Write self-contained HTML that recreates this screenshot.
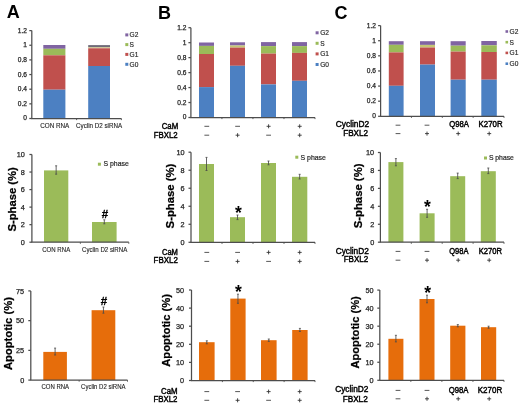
<!DOCTYPE html>
<html><head><meta charset="utf-8"><style>
html,body{margin:0;padding:0;background:#fff;width:520px;height:405px;overflow:hidden}
svg{display:block;filter:blur(0.4px);font-family:"Liberation Sans",sans-serif}
</style></head><body>
<svg width="520" height="405" viewBox="0 0 520 405">
<rect width="520" height="405" fill="#fff"/>
<text x="6.8" y="17.9" font-size="18" text-anchor="start" font-weight="bold" fill="#000">A</text>
<text x="158" y="19" font-size="18" text-anchor="start" font-weight="bold" fill="#000">B</text>
<text x="334.6" y="18.6" font-size="18" text-anchor="start" font-weight="bold" fill="#000">C</text>
<rect x="43.3" y="45" width="22.1" height="3.8" fill="#8064a2"/>
<rect x="43.3" y="48.8" width="22.1" height="6.5" fill="#9bbb59"/>
<rect x="43.3" y="55.3" width="22.1" height="34.4" fill="#c0504d"/>
<rect x="43.3" y="89.7" width="22.1" height="28.8" fill="#4c80c2"/>
<rect x="88.2" y="45.1" width="21.8" height="2.1" fill="#6f6b78"/>
<rect x="88.2" y="47.2" width="21.8" height="1.1" fill="#c9c08a"/>
<rect x="88.2" y="48.3" width="21.8" height="17.7" fill="#c0504d"/>
<rect x="88.2" y="66" width="21.8" height="52.5" fill="#4c80c2"/>
<line x1="31.8" y1="30.6" x2="31.8" y2="118.5" stroke="#4d4d4d" stroke-width="1.25"/>
<line x1="29.3" y1="118.5" x2="31.8" y2="118.5" stroke="#4d4d4d" stroke-width="1.25"/>
<text x="27" y="120.47" font-size="6.6" text-anchor="end" font-weight="normal" fill="#262626" stroke="#262626" stroke-width="0.25">0</text>
<line x1="29.3" y1="103.85" x2="31.8" y2="103.85" stroke="#4d4d4d" stroke-width="1.25"/>
<text x="27" y="105.82" font-size="6.6" text-anchor="end" font-weight="normal" fill="#262626" stroke="#262626" stroke-width="0.25">0.2</text>
<line x1="29.3" y1="89.2" x2="31.8" y2="89.2" stroke="#4d4d4d" stroke-width="1.25"/>
<text x="27" y="91.17" font-size="6.6" text-anchor="end" font-weight="normal" fill="#262626" stroke="#262626" stroke-width="0.25">0.4</text>
<line x1="29.3" y1="74.55" x2="31.8" y2="74.55" stroke="#4d4d4d" stroke-width="1.25"/>
<text x="27" y="76.52" font-size="6.6" text-anchor="end" font-weight="normal" fill="#262626" stroke="#262626" stroke-width="0.25">0.6</text>
<line x1="29.3" y1="59.9" x2="31.8" y2="59.9" stroke="#4d4d4d" stroke-width="1.25"/>
<text x="27" y="61.87" font-size="6.6" text-anchor="end" font-weight="normal" fill="#262626" stroke="#262626" stroke-width="0.25">0.8</text>
<line x1="29.3" y1="45.25" x2="31.8" y2="45.25" stroke="#4d4d4d" stroke-width="1.25"/>
<text x="27" y="47.22" font-size="6.6" text-anchor="end" font-weight="normal" fill="#262626" stroke="#262626" stroke-width="0.25">1</text>
<line x1="29.3" y1="30.6" x2="31.8" y2="30.6" stroke="#4d4d4d" stroke-width="1.25"/>
<text x="27" y="32.57" font-size="6.6" text-anchor="end" font-weight="normal" fill="#262626" stroke="#262626" stroke-width="0.25">1.2</text>
<line x1="31.3" y1="118.5" x2="121.4" y2="118.5" stroke="#4d4d4d" stroke-width="1.25"/>
<line x1="76.6" y1="118.5" x2="76.6" y2="120.1" stroke="#4d4d4d" stroke-width="0.9"/>
<line x1="121.4" y1="118.5" x2="121.4" y2="120.1" stroke="#4d4d4d" stroke-width="0.9"/>
<rect x="125.3" y="33.4" width="3" height="3" fill="#8064a2"/>
<text x="129.6" y="37.2" font-size="6.6" text-anchor="start" font-weight="normal" fill="#262626" stroke="#262626" stroke-width="0.15">G2</text>
<rect x="125.3" y="43.1" width="3" height="3" fill="#9bbb59"/>
<text x="129.6" y="46.9" font-size="6.6" text-anchor="start" font-weight="normal" fill="#262626" stroke="#262626" stroke-width="0.15">S</text>
<rect x="125.3" y="52.9" width="3" height="3" fill="#c0504d"/>
<text x="129.6" y="56.7" font-size="6.6" text-anchor="start" font-weight="normal" fill="#262626" stroke="#262626" stroke-width="0.15">G1</text>
<rect x="125.3" y="62.8" width="3" height="3" fill="#4c80c2"/>
<text x="129.6" y="66.6" font-size="6.6" text-anchor="start" font-weight="normal" fill="#262626" stroke="#262626" stroke-width="0.15">G0</text>
<text x="40.18" y="128.3" font-size="6.4" text-anchor="start" font-weight="normal" fill="#262626" textLength="29.13" lengthAdjust="spacingAndGlyphs" stroke="#262626" stroke-width="0.12">CON RNA</text>
<text x="76.09" y="127.8" font-size="6.4" text-anchor="start" font-weight="normal" fill="#262626" textLength="46.02" lengthAdjust="spacingAndGlyphs" stroke="#262626" stroke-width="0.12">Cyclin D2 siRNA</text>
<rect x="199" y="42.5" width="15" height="3.4" fill="#8064a2"/>
<rect x="199" y="45.9" width="15" height="8.1" fill="#9bbb59"/>
<rect x="199" y="54" width="15" height="33.1" fill="#c0504d"/>
<rect x="199" y="87.1" width="15" height="30.4" fill="#4c80c2"/>
<rect x="230" y="42.3" width="15" height="3.2" fill="#8064a2"/>
<rect x="230" y="45.5" width="15" height="2.1" fill="#c5c772"/>
<rect x="230" y="47.6" width="15" height="18.2" fill="#c0504d"/>
<rect x="230" y="65.8" width="15" height="51.7" fill="#4c80c2"/>
<rect x="261" y="42.1" width="15" height="4" fill="#8064a2"/>
<rect x="261" y="46.1" width="15" height="7.5" fill="#9bbb59"/>
<rect x="261" y="53.6" width="15" height="30.8" fill="#c0504d"/>
<rect x="261" y="84.4" width="15" height="33.1" fill="#4c80c2"/>
<rect x="292" y="42.1" width="15" height="4" fill="#8064a2"/>
<rect x="292" y="46.1" width="15" height="6.8" fill="#9bbb59"/>
<rect x="292" y="52.9" width="15" height="27.9" fill="#c0504d"/>
<rect x="292" y="80.8" width="15" height="36.7" fill="#4c80c2"/>
<line x1="190.9" y1="27.7" x2="190.9" y2="117.5" stroke="#4d4d4d" stroke-width="1.25"/>
<line x1="188.4" y1="117.5" x2="190.9" y2="117.5" stroke="#4d4d4d" stroke-width="1.25"/>
<text x="186.4" y="119.47" font-size="6.6" text-anchor="end" font-weight="normal" fill="#262626" stroke="#262626" stroke-width="0.25">0</text>
<line x1="188.4" y1="102.53" x2="190.9" y2="102.53" stroke="#4d4d4d" stroke-width="1.25"/>
<text x="186.4" y="104.5" font-size="6.6" text-anchor="end" font-weight="normal" fill="#262626" stroke="#262626" stroke-width="0.25">0.2</text>
<line x1="188.4" y1="87.57" x2="190.9" y2="87.57" stroke="#4d4d4d" stroke-width="1.25"/>
<text x="186.4" y="89.54" font-size="6.6" text-anchor="end" font-weight="normal" fill="#262626" stroke="#262626" stroke-width="0.25">0.4</text>
<line x1="188.4" y1="72.6" x2="190.9" y2="72.6" stroke="#4d4d4d" stroke-width="1.25"/>
<text x="186.4" y="74.57" font-size="6.6" text-anchor="end" font-weight="normal" fill="#262626" stroke="#262626" stroke-width="0.25">0.6</text>
<line x1="188.4" y1="57.63" x2="190.9" y2="57.63" stroke="#4d4d4d" stroke-width="1.25"/>
<text x="186.4" y="59.6" font-size="6.6" text-anchor="end" font-weight="normal" fill="#262626" stroke="#262626" stroke-width="0.25">0.8</text>
<line x1="188.4" y1="42.67" x2="190.9" y2="42.67" stroke="#4d4d4d" stroke-width="1.25"/>
<text x="186.4" y="44.64" font-size="6.6" text-anchor="end" font-weight="normal" fill="#262626" stroke="#262626" stroke-width="0.25">1</text>
<line x1="188.4" y1="27.7" x2="190.9" y2="27.7" stroke="#4d4d4d" stroke-width="1.25"/>
<text x="186.4" y="29.67" font-size="6.6" text-anchor="end" font-weight="normal" fill="#262626" stroke="#262626" stroke-width="0.25">1.2</text>
<line x1="190.4" y1="117.5" x2="315" y2="117.5" stroke="#4d4d4d" stroke-width="1.25"/>
<line x1="221.93" y1="117.5" x2="221.93" y2="119.1" stroke="#4d4d4d" stroke-width="0.9"/>
<line x1="252.95" y1="117.5" x2="252.95" y2="119.1" stroke="#4d4d4d" stroke-width="0.9"/>
<line x1="283.98" y1="117.5" x2="283.98" y2="119.1" stroke="#4d4d4d" stroke-width="0.9"/>
<line x1="315" y1="117.5" x2="315" y2="119.1" stroke="#4d4d4d" stroke-width="0.9"/>
<rect x="315.6" y="31.3" width="3" height="3" fill="#8064a2"/>
<text x="320.2" y="35.1" font-size="6.6" text-anchor="start" font-weight="normal" fill="#262626" stroke="#262626" stroke-width="0.15">G2</text>
<rect x="315.6" y="41.8" width="3" height="3" fill="#9bbb59"/>
<text x="320.2" y="45.6" font-size="6.6" text-anchor="start" font-weight="normal" fill="#262626" stroke="#262626" stroke-width="0.15">S</text>
<rect x="315.6" y="52.4" width="3" height="3" fill="#c0504d"/>
<text x="320.2" y="56.2" font-size="6.6" text-anchor="start" font-weight="normal" fill="#262626" stroke="#262626" stroke-width="0.15">G1</text>
<rect x="315.6" y="63" width="3" height="3" fill="#4c80c2"/>
<text x="320.2" y="66.8" font-size="6.6" text-anchor="start" font-weight="normal" fill="#262626" stroke="#262626" stroke-width="0.15">G0</text>
<rect x="388.8" y="41.2" width="14.8" height="3.6" fill="#8064a2"/>
<rect x="388.8" y="44.8" width="14.8" height="7.6" fill="#9bbb59"/>
<rect x="388.8" y="52.4" width="14.8" height="33.4" fill="#c0504d"/>
<rect x="388.8" y="85.8" width="14.8" height="30.5" fill="#4c80c2"/>
<rect x="420" y="41.2" width="15" height="3.7" fill="#8064a2"/>
<rect x="420" y="44.9" width="15" height="2.6" fill="#c5c772"/>
<rect x="420" y="47.5" width="15" height="17.1" fill="#c0504d"/>
<rect x="420" y="64.6" width="15" height="51.7" fill="#4c80c2"/>
<rect x="450.6" y="41.2" width="15.1" height="4.5" fill="#8064a2"/>
<rect x="450.6" y="45.7" width="15.1" height="5.9" fill="#9bbb59"/>
<rect x="450.6" y="51.6" width="15.1" height="28.1" fill="#c0504d"/>
<rect x="450.6" y="79.7" width="15.1" height="36.6" fill="#4c80c2"/>
<rect x="481.3" y="41" width="15.5" height="4.3" fill="#8064a2"/>
<rect x="481.3" y="45.3" width="15.5" height="6.7" fill="#9bbb59"/>
<rect x="481.3" y="52" width="15.5" height="27.7" fill="#c0504d"/>
<rect x="481.3" y="79.7" width="15.5" height="36.6" fill="#4c80c2"/>
<line x1="380.6" y1="25.6" x2="380.6" y2="116.3" stroke="#4d4d4d" stroke-width="1.25"/>
<line x1="378.1" y1="116.3" x2="380.6" y2="116.3" stroke="#4d4d4d" stroke-width="1.25"/>
<text x="376" y="118.27" font-size="6.6" text-anchor="end" font-weight="normal" fill="#262626" stroke="#262626" stroke-width="0.25">0</text>
<line x1="378.1" y1="101.18" x2="380.6" y2="101.18" stroke="#4d4d4d" stroke-width="1.25"/>
<text x="376" y="103.15" font-size="6.6" text-anchor="end" font-weight="normal" fill="#262626" stroke="#262626" stroke-width="0.25">0.2</text>
<line x1="378.1" y1="86.07" x2="380.6" y2="86.07" stroke="#4d4d4d" stroke-width="1.25"/>
<text x="376" y="88.04" font-size="6.6" text-anchor="end" font-weight="normal" fill="#262626" stroke="#262626" stroke-width="0.25">0.4</text>
<line x1="378.1" y1="70.95" x2="380.6" y2="70.95" stroke="#4d4d4d" stroke-width="1.25"/>
<text x="376" y="72.92" font-size="6.6" text-anchor="end" font-weight="normal" fill="#262626" stroke="#262626" stroke-width="0.25">0.6</text>
<line x1="378.1" y1="55.83" x2="380.6" y2="55.83" stroke="#4d4d4d" stroke-width="1.25"/>
<text x="376" y="57.8" font-size="6.6" text-anchor="end" font-weight="normal" fill="#262626" stroke="#262626" stroke-width="0.25">0.8</text>
<line x1="378.1" y1="40.72" x2="380.6" y2="40.72" stroke="#4d4d4d" stroke-width="1.25"/>
<text x="376" y="42.69" font-size="6.6" text-anchor="end" font-weight="normal" fill="#262626" stroke="#262626" stroke-width="0.25">1</text>
<line x1="378.1" y1="25.6" x2="380.6" y2="25.6" stroke="#4d4d4d" stroke-width="1.25"/>
<text x="376" y="27.57" font-size="6.6" text-anchor="end" font-weight="normal" fill="#262626" stroke="#262626" stroke-width="0.25">1.2</text>
<line x1="380.1" y1="116.3" x2="504" y2="116.3" stroke="#4d4d4d" stroke-width="1.25"/>
<line x1="411.45" y1="116.3" x2="411.45" y2="117.9" stroke="#4d4d4d" stroke-width="0.9"/>
<line x1="442.3" y1="116.3" x2="442.3" y2="117.9" stroke="#4d4d4d" stroke-width="0.9"/>
<line x1="473.15" y1="116.3" x2="473.15" y2="117.9" stroke="#4d4d4d" stroke-width="0.9"/>
<line x1="504" y1="116.3" x2="504" y2="117.9" stroke="#4d4d4d" stroke-width="0.9"/>
<rect x="505.5" y="30.2" width="2.6" height="2.6" fill="#8064a2"/>
<text x="509.6" y="33.8" font-size="6.6" text-anchor="start" font-weight="normal" fill="#262626" stroke="#262626" stroke-width="0.15">G2</text>
<rect x="505.5" y="40.9" width="2.6" height="2.6" fill="#9bbb59"/>
<text x="509.6" y="44.5" font-size="6.6" text-anchor="start" font-weight="normal" fill="#262626" stroke="#262626" stroke-width="0.15">S</text>
<rect x="505.5" y="51.6" width="2.6" height="2.6" fill="#c0504d"/>
<text x="509.6" y="55.2" font-size="6.6" text-anchor="start" font-weight="normal" fill="#262626" stroke="#262626" stroke-width="0.15">G1</text>
<rect x="505.5" y="62.4" width="2.6" height="2.6" fill="#4c80c2"/>
<text x="509.6" y="66" font-size="6.6" text-anchor="start" font-weight="normal" fill="#262626" stroke="#262626" stroke-width="0.15">G0</text>
<rect x="44" y="170.4" width="24.3" height="71.8" fill="#9bbb59"/>
<rect x="92" y="222" width="24.6" height="20.2" fill="#9bbb59"/>
<line x1="31.9" y1="154.5" x2="31.9" y2="242.2" stroke="#4d4d4d" stroke-width="1.25"/>
<line x1="29.4" y1="242.2" x2="31.9" y2="242.2" stroke="#4d4d4d" stroke-width="1.25"/>
<text x="24.9" y="245.01" font-size="7.3" text-anchor="end" font-weight="normal" fill="#262626" stroke="#262626" stroke-width="0.25">0</text>
<line x1="29.4" y1="224.66" x2="31.9" y2="224.66" stroke="#4d4d4d" stroke-width="1.25"/>
<text x="24.9" y="227.47" font-size="7.3" text-anchor="end" font-weight="normal" fill="#262626" stroke="#262626" stroke-width="0.25">2</text>
<line x1="29.4" y1="207.12" x2="31.9" y2="207.12" stroke="#4d4d4d" stroke-width="1.25"/>
<text x="24.9" y="209.93" font-size="7.3" text-anchor="end" font-weight="normal" fill="#262626" stroke="#262626" stroke-width="0.25">4</text>
<line x1="29.4" y1="189.58" x2="31.9" y2="189.58" stroke="#4d4d4d" stroke-width="1.25"/>
<text x="24.9" y="192.39" font-size="7.3" text-anchor="end" font-weight="normal" fill="#262626" stroke="#262626" stroke-width="0.25">6</text>
<line x1="29.4" y1="172.04" x2="31.9" y2="172.04" stroke="#4d4d4d" stroke-width="1.25"/>
<text x="24.9" y="174.85" font-size="7.3" text-anchor="end" font-weight="normal" fill="#262626" stroke="#262626" stroke-width="0.25">8</text>
<line x1="29.4" y1="154.5" x2="31.9" y2="154.5" stroke="#4d4d4d" stroke-width="1.25"/>
<text x="24.9" y="157.31" font-size="7.3" text-anchor="end" font-weight="normal" fill="#262626" stroke="#262626" stroke-width="0.25">10</text>
<line x1="31.4" y1="242.2" x2="128.8" y2="242.2" stroke="#4d4d4d" stroke-width="1.25"/>
<line x1="80.35" y1="242.2" x2="80.35" y2="243.8" stroke="#4d4d4d" stroke-width="0.9"/>
<line x1="128.8" y1="242.2" x2="128.8" y2="243.8" stroke="#4d4d4d" stroke-width="0.9"/>
<line x1="56.15" y1="165.8" x2="56.15" y2="174.2" stroke="#4a4a4a" stroke-width="0.85"/>
<line x1="55.15" y1="165.8" x2="57.15" y2="165.8" stroke="#4a4a4a" stroke-width="0.8"/>
<line x1="55.15" y1="174.2" x2="57.15" y2="174.2" stroke="#4a4a4a" stroke-width="0.8"/>
<line x1="104.3" y1="219.8" x2="104.3" y2="223.8" stroke="#4a4a4a" stroke-width="0.85"/>
<line x1="103.3" y1="219.8" x2="105.3" y2="219.8" stroke="#4a4a4a" stroke-width="0.8"/>
<line x1="103.3" y1="223.8" x2="105.3" y2="223.8" stroke="#4a4a4a" stroke-width="0.8"/>
<rect x="43.3" y="351.9" width="23.6" height="28.2" fill="#e66d0b"/>
<rect x="91.6" y="310.2" width="23.7" height="69.9" fill="#e66d0b"/>
<line x1="30.8" y1="290.9" x2="30.8" y2="380.1" stroke="#4d4d4d" stroke-width="1.25"/>
<line x1="28.3" y1="380.1" x2="30.8" y2="380.1" stroke="#4d4d4d" stroke-width="1.25"/>
<text x="24.2" y="382.91" font-size="7.3" text-anchor="end" font-weight="normal" fill="#262626" stroke="#262626" stroke-width="0.25">0</text>
<line x1="28.3" y1="350.37" x2="30.8" y2="350.37" stroke="#4d4d4d" stroke-width="1.25"/>
<text x="24.2" y="353.18" font-size="7.3" text-anchor="end" font-weight="normal" fill="#262626" stroke="#262626" stroke-width="0.25">25</text>
<line x1="28.3" y1="320.63" x2="30.8" y2="320.63" stroke="#4d4d4d" stroke-width="1.25"/>
<text x="24.2" y="323.44" font-size="7.3" text-anchor="end" font-weight="normal" fill="#262626" stroke="#262626" stroke-width="0.25">50</text>
<line x1="28.3" y1="290.9" x2="30.8" y2="290.9" stroke="#4d4d4d" stroke-width="1.25"/>
<text x="24.2" y="293.71" font-size="7.3" text-anchor="end" font-weight="normal" fill="#262626" stroke="#262626" stroke-width="0.25">75</text>
<line x1="30.3" y1="380.1" x2="127.5" y2="380.1" stroke="#4d4d4d" stroke-width="1.25"/>
<line x1="79.15" y1="380.1" x2="79.15" y2="381.7" stroke="#4d4d4d" stroke-width="0.9"/>
<line x1="127.5" y1="380.1" x2="127.5" y2="381.7" stroke="#4d4d4d" stroke-width="0.9"/>
<line x1="55.1" y1="348.1" x2="55.1" y2="355" stroke="#4a4a4a" stroke-width="0.85"/>
<line x1="54.1" y1="348.1" x2="56.1" y2="348.1" stroke="#4a4a4a" stroke-width="0.8"/>
<line x1="54.1" y1="355" x2="56.1" y2="355" stroke="#4a4a4a" stroke-width="0.8"/>
<line x1="103.45" y1="307" x2="103.45" y2="313.2" stroke="#4a4a4a" stroke-width="0.85"/>
<line x1="102.45" y1="307" x2="104.45" y2="307" stroke="#4a4a4a" stroke-width="0.8"/>
<line x1="102.45" y1="313.2" x2="104.45" y2="313.2" stroke="#4a4a4a" stroke-width="0.8"/>
<rect x="199" y="164" width="15" height="78.3" fill="#9bbb59"/>
<rect x="230" y="217.2" width="15" height="25.1" fill="#9bbb59"/>
<rect x="261" y="163" width="15" height="79.3" fill="#9bbb59"/>
<rect x="292" y="176.8" width="15.3" height="65.5" fill="#9bbb59"/>
<line x1="191" y1="152.2" x2="191" y2="242.3" stroke="#4d4d4d" stroke-width="1.25"/>
<line x1="188.5" y1="242.3" x2="191" y2="242.3" stroke="#4d4d4d" stroke-width="1.25"/>
<text x="184.6" y="245.11" font-size="7.3" text-anchor="end" font-weight="normal" fill="#262626" stroke="#262626" stroke-width="0.25">0</text>
<line x1="188.5" y1="224.28" x2="191" y2="224.28" stroke="#4d4d4d" stroke-width="1.25"/>
<text x="184.6" y="227.09" font-size="7.3" text-anchor="end" font-weight="normal" fill="#262626" stroke="#262626" stroke-width="0.25">2</text>
<line x1="188.5" y1="206.26" x2="191" y2="206.26" stroke="#4d4d4d" stroke-width="1.25"/>
<text x="184.6" y="209.07" font-size="7.3" text-anchor="end" font-weight="normal" fill="#262626" stroke="#262626" stroke-width="0.25">4</text>
<line x1="188.5" y1="188.24" x2="191" y2="188.24" stroke="#4d4d4d" stroke-width="1.25"/>
<text x="184.6" y="191.05" font-size="7.3" text-anchor="end" font-weight="normal" fill="#262626" stroke="#262626" stroke-width="0.25">6</text>
<line x1="188.5" y1="170.22" x2="191" y2="170.22" stroke="#4d4d4d" stroke-width="1.25"/>
<text x="184.6" y="173.03" font-size="7.3" text-anchor="end" font-weight="normal" fill="#262626" stroke="#262626" stroke-width="0.25">8</text>
<line x1="188.5" y1="152.2" x2="191" y2="152.2" stroke="#4d4d4d" stroke-width="1.25"/>
<text x="184.6" y="155.01" font-size="7.3" text-anchor="end" font-weight="normal" fill="#262626" stroke="#262626" stroke-width="0.25">10</text>
<line x1="190.5" y1="242.3" x2="315" y2="242.3" stroke="#4d4d4d" stroke-width="1.25"/>
<line x1="222" y1="242.3" x2="222" y2="243.9" stroke="#4d4d4d" stroke-width="0.9"/>
<line x1="253" y1="242.3" x2="253" y2="243.9" stroke="#4d4d4d" stroke-width="0.9"/>
<line x1="284" y1="242.3" x2="284" y2="243.9" stroke="#4d4d4d" stroke-width="0.9"/>
<line x1="315" y1="242.3" x2="315" y2="243.9" stroke="#4d4d4d" stroke-width="0.9"/>
<line x1="206.5" y1="157.4" x2="206.5" y2="170.5" stroke="#4a4a4a" stroke-width="0.85"/>
<line x1="205.5" y1="157.4" x2="207.5" y2="157.4" stroke="#4a4a4a" stroke-width="0.8"/>
<line x1="205.5" y1="170.5" x2="207.5" y2="170.5" stroke="#4a4a4a" stroke-width="0.8"/>
<line x1="237.5" y1="215" x2="237.5" y2="219.6" stroke="#4a4a4a" stroke-width="0.85"/>
<line x1="236.5" y1="215" x2="238.5" y2="215" stroke="#4a4a4a" stroke-width="0.8"/>
<line x1="236.5" y1="219.6" x2="238.5" y2="219.6" stroke="#4a4a4a" stroke-width="0.8"/>
<line x1="268.5" y1="161" x2="268.5" y2="164.8" stroke="#4a4a4a" stroke-width="0.85"/>
<line x1="267.5" y1="161" x2="269.5" y2="161" stroke="#4a4a4a" stroke-width="0.8"/>
<line x1="267.5" y1="164.8" x2="269.5" y2="164.8" stroke="#4a4a4a" stroke-width="0.8"/>
<line x1="299.65" y1="174.3" x2="299.65" y2="179" stroke="#4a4a4a" stroke-width="0.85"/>
<line x1="298.65" y1="174.3" x2="300.65" y2="174.3" stroke="#4a4a4a" stroke-width="0.8"/>
<line x1="298.65" y1="179" x2="300.65" y2="179" stroke="#4a4a4a" stroke-width="0.8"/>
<rect x="199" y="342.2" width="15.6" height="38.3" fill="#e66d0b"/>
<rect x="230.3" y="298.6" width="15.3" height="81.9" fill="#e66d0b"/>
<rect x="261" y="340.2" width="15.6" height="40.3" fill="#e66d0b"/>
<rect x="292.2" y="330" width="15.4" height="50.5" fill="#e66d0b"/>
<line x1="191.5" y1="290" x2="191.5" y2="380.5" stroke="#4d4d4d" stroke-width="1.25"/>
<line x1="189" y1="380.5" x2="191.5" y2="380.5" stroke="#4d4d4d" stroke-width="1.25"/>
<text x="184" y="383.31" font-size="7.3" text-anchor="end" font-weight="normal" fill="#262626" stroke="#262626" stroke-width="0.25">0</text>
<line x1="189" y1="362.4" x2="191.5" y2="362.4" stroke="#4d4d4d" stroke-width="1.25"/>
<text x="184" y="365.21" font-size="7.3" text-anchor="end" font-weight="normal" fill="#262626" stroke="#262626" stroke-width="0.25">10</text>
<line x1="189" y1="344.3" x2="191.5" y2="344.3" stroke="#4d4d4d" stroke-width="1.25"/>
<text x="184" y="347.11" font-size="7.3" text-anchor="end" font-weight="normal" fill="#262626" stroke="#262626" stroke-width="0.25">20</text>
<line x1="189" y1="326.2" x2="191.5" y2="326.2" stroke="#4d4d4d" stroke-width="1.25"/>
<text x="184" y="329.01" font-size="7.3" text-anchor="end" font-weight="normal" fill="#262626" stroke="#262626" stroke-width="0.25">30</text>
<line x1="189" y1="308.1" x2="191.5" y2="308.1" stroke="#4d4d4d" stroke-width="1.25"/>
<text x="184" y="310.91" font-size="7.3" text-anchor="end" font-weight="normal" fill="#262626" stroke="#262626" stroke-width="0.25">40</text>
<line x1="189" y1="290" x2="191.5" y2="290" stroke="#4d4d4d" stroke-width="1.25"/>
<text x="184" y="292.81" font-size="7.3" text-anchor="end" font-weight="normal" fill="#262626" stroke="#262626" stroke-width="0.25">50</text>
<line x1="191" y1="380.5" x2="315" y2="380.5" stroke="#4d4d4d" stroke-width="1.25"/>
<line x1="222.38" y1="380.5" x2="222.38" y2="382.1" stroke="#4d4d4d" stroke-width="0.9"/>
<line x1="253.25" y1="380.5" x2="253.25" y2="382.1" stroke="#4d4d4d" stroke-width="0.9"/>
<line x1="284.12" y1="380.5" x2="284.12" y2="382.1" stroke="#4d4d4d" stroke-width="0.9"/>
<line x1="315" y1="380.5" x2="315" y2="382.1" stroke="#4d4d4d" stroke-width="0.9"/>
<line x1="206.8" y1="340.8" x2="206.8" y2="343.8" stroke="#4a4a4a" stroke-width="0.85"/>
<line x1="205.8" y1="340.8" x2="207.8" y2="340.8" stroke="#4a4a4a" stroke-width="0.8"/>
<line x1="205.8" y1="343.8" x2="207.8" y2="343.8" stroke="#4a4a4a" stroke-width="0.8"/>
<line x1="237.95" y1="294.2" x2="237.95" y2="303.3" stroke="#4a4a4a" stroke-width="0.85"/>
<line x1="236.95" y1="294.2" x2="238.95" y2="294.2" stroke="#4a4a4a" stroke-width="0.8"/>
<line x1="236.95" y1="303.3" x2="238.95" y2="303.3" stroke="#4a4a4a" stroke-width="0.8"/>
<line x1="268.8" y1="339" x2="268.8" y2="341.4" stroke="#4a4a4a" stroke-width="0.85"/>
<line x1="267.8" y1="339" x2="269.8" y2="339" stroke="#4a4a4a" stroke-width="0.8"/>
<line x1="267.8" y1="341.4" x2="269.8" y2="341.4" stroke="#4a4a4a" stroke-width="0.8"/>
<line x1="299.9" y1="328.4" x2="299.9" y2="331.5" stroke="#4a4a4a" stroke-width="0.85"/>
<line x1="298.9" y1="328.4" x2="300.9" y2="328.4" stroke="#4a4a4a" stroke-width="0.8"/>
<line x1="298.9" y1="331.5" x2="300.9" y2="331.5" stroke="#4a4a4a" stroke-width="0.8"/>
<rect x="388.4" y="162.1" width="15" height="80.1" fill="#9bbb59"/>
<rect x="419.6" y="213.3" width="15" height="28.9" fill="#9bbb59"/>
<rect x="450.2" y="176.2" width="15" height="66" fill="#9bbb59"/>
<rect x="480.8" y="171.2" width="15" height="71" fill="#9bbb59"/>
<line x1="380.4" y1="152.5" x2="380.4" y2="242.2" stroke="#4d4d4d" stroke-width="1.25"/>
<line x1="377.9" y1="242.2" x2="380.4" y2="242.2" stroke="#4d4d4d" stroke-width="1.25"/>
<text x="374.2" y="245.01" font-size="7.3" text-anchor="end" font-weight="normal" fill="#262626" stroke="#262626" stroke-width="0.25">0</text>
<line x1="377.9" y1="224.26" x2="380.4" y2="224.26" stroke="#4d4d4d" stroke-width="1.25"/>
<text x="374.2" y="227.07" font-size="7.3" text-anchor="end" font-weight="normal" fill="#262626" stroke="#262626" stroke-width="0.25">2</text>
<line x1="377.9" y1="206.32" x2="380.4" y2="206.32" stroke="#4d4d4d" stroke-width="1.25"/>
<text x="374.2" y="209.13" font-size="7.3" text-anchor="end" font-weight="normal" fill="#262626" stroke="#262626" stroke-width="0.25">4</text>
<line x1="377.9" y1="188.38" x2="380.4" y2="188.38" stroke="#4d4d4d" stroke-width="1.25"/>
<text x="374.2" y="191.19" font-size="7.3" text-anchor="end" font-weight="normal" fill="#262626" stroke="#262626" stroke-width="0.25">6</text>
<line x1="377.9" y1="170.44" x2="380.4" y2="170.44" stroke="#4d4d4d" stroke-width="1.25"/>
<text x="374.2" y="173.25" font-size="7.3" text-anchor="end" font-weight="normal" fill="#262626" stroke="#262626" stroke-width="0.25">8</text>
<line x1="377.9" y1="152.5" x2="380.4" y2="152.5" stroke="#4d4d4d" stroke-width="1.25"/>
<text x="374.2" y="155.31" font-size="7.3" text-anchor="end" font-weight="normal" fill="#262626" stroke="#262626" stroke-width="0.25">10</text>
<line x1="379.9" y1="242.2" x2="504" y2="242.2" stroke="#4d4d4d" stroke-width="1.25"/>
<line x1="411.3" y1="242.2" x2="411.3" y2="243.8" stroke="#4d4d4d" stroke-width="0.9"/>
<line x1="442.2" y1="242.2" x2="442.2" y2="243.8" stroke="#4d4d4d" stroke-width="0.9"/>
<line x1="473.1" y1="242.2" x2="473.1" y2="243.8" stroke="#4d4d4d" stroke-width="0.9"/>
<line x1="504" y1="242.2" x2="504" y2="243.8" stroke="#4d4d4d" stroke-width="0.9"/>
<line x1="395.9" y1="158.6" x2="395.9" y2="165.8" stroke="#4a4a4a" stroke-width="0.85"/>
<line x1="394.9" y1="158.6" x2="396.9" y2="158.6" stroke="#4a4a4a" stroke-width="0.8"/>
<line x1="394.9" y1="165.8" x2="396.9" y2="165.8" stroke="#4a4a4a" stroke-width="0.8"/>
<line x1="427.1" y1="209.3" x2="427.1" y2="217.3" stroke="#4a4a4a" stroke-width="0.85"/>
<line x1="426.1" y1="209.3" x2="428.1" y2="209.3" stroke="#4a4a4a" stroke-width="0.8"/>
<line x1="426.1" y1="217.3" x2="428.1" y2="217.3" stroke="#4a4a4a" stroke-width="0.8"/>
<line x1="457.7" y1="173.1" x2="457.7" y2="178.6" stroke="#4a4a4a" stroke-width="0.85"/>
<line x1="456.7" y1="173.1" x2="458.7" y2="173.1" stroke="#4a4a4a" stroke-width="0.8"/>
<line x1="456.7" y1="178.6" x2="458.7" y2="178.6" stroke="#4a4a4a" stroke-width="0.8"/>
<line x1="488.3" y1="168" x2="488.3" y2="173.6" stroke="#4a4a4a" stroke-width="0.85"/>
<line x1="487.3" y1="168" x2="489.3" y2="168" stroke="#4a4a4a" stroke-width="0.8"/>
<line x1="487.3" y1="173.6" x2="489.3" y2="173.6" stroke="#4a4a4a" stroke-width="0.8"/>
<rect x="388.4" y="338.8" width="15" height="41.5" fill="#e66d0b"/>
<rect x="419.5" y="299" width="15" height="81.3" fill="#e66d0b"/>
<rect x="450.2" y="325.7" width="15.2" height="54.6" fill="#e66d0b"/>
<rect x="481" y="327.2" width="15.2" height="53.1" fill="#e66d0b"/>
<line x1="379.8" y1="290.1" x2="379.8" y2="380.3" stroke="#4d4d4d" stroke-width="1.25"/>
<line x1="377.3" y1="380.3" x2="379.8" y2="380.3" stroke="#4d4d4d" stroke-width="1.25"/>
<text x="373.5" y="383.11" font-size="7.3" text-anchor="end" font-weight="normal" fill="#262626" stroke="#262626" stroke-width="0.25">0</text>
<line x1="377.3" y1="362.26" x2="379.8" y2="362.26" stroke="#4d4d4d" stroke-width="1.25"/>
<text x="373.5" y="365.07" font-size="7.3" text-anchor="end" font-weight="normal" fill="#262626" stroke="#262626" stroke-width="0.25">10</text>
<line x1="377.3" y1="344.22" x2="379.8" y2="344.22" stroke="#4d4d4d" stroke-width="1.25"/>
<text x="373.5" y="347.03" font-size="7.3" text-anchor="end" font-weight="normal" fill="#262626" stroke="#262626" stroke-width="0.25">20</text>
<line x1="377.3" y1="326.18" x2="379.8" y2="326.18" stroke="#4d4d4d" stroke-width="1.25"/>
<text x="373.5" y="328.99" font-size="7.3" text-anchor="end" font-weight="normal" fill="#262626" stroke="#262626" stroke-width="0.25">30</text>
<line x1="377.3" y1="308.14" x2="379.8" y2="308.14" stroke="#4d4d4d" stroke-width="1.25"/>
<text x="373.5" y="310.95" font-size="7.3" text-anchor="end" font-weight="normal" fill="#262626" stroke="#262626" stroke-width="0.25">40</text>
<line x1="377.3" y1="290.1" x2="379.8" y2="290.1" stroke="#4d4d4d" stroke-width="1.25"/>
<text x="373.5" y="292.91" font-size="7.3" text-anchor="end" font-weight="normal" fill="#262626" stroke="#262626" stroke-width="0.25">50</text>
<line x1="379.3" y1="380.3" x2="504" y2="380.3" stroke="#4d4d4d" stroke-width="1.25"/>
<line x1="410.85" y1="380.3" x2="410.85" y2="381.9" stroke="#4d4d4d" stroke-width="0.9"/>
<line x1="441.9" y1="380.3" x2="441.9" y2="381.9" stroke="#4d4d4d" stroke-width="0.9"/>
<line x1="472.95" y1="380.3" x2="472.95" y2="381.9" stroke="#4d4d4d" stroke-width="0.9"/>
<line x1="504" y1="380.3" x2="504" y2="381.9" stroke="#4d4d4d" stroke-width="0.9"/>
<line x1="395.9" y1="335.3" x2="395.9" y2="341.9" stroke="#4a4a4a" stroke-width="0.85"/>
<line x1="394.9" y1="335.3" x2="396.9" y2="335.3" stroke="#4a4a4a" stroke-width="0.8"/>
<line x1="394.9" y1="341.9" x2="396.9" y2="341.9" stroke="#4a4a4a" stroke-width="0.8"/>
<line x1="427" y1="295.2" x2="427" y2="302.8" stroke="#4a4a4a" stroke-width="0.85"/>
<line x1="426" y1="295.2" x2="428" y2="295.2" stroke="#4a4a4a" stroke-width="0.8"/>
<line x1="426" y1="302.8" x2="428" y2="302.8" stroke="#4a4a4a" stroke-width="0.8"/>
<line x1="457.8" y1="324.6" x2="457.8" y2="326.8" stroke="#4a4a4a" stroke-width="0.85"/>
<line x1="456.8" y1="324.6" x2="458.8" y2="324.6" stroke="#4a4a4a" stroke-width="0.8"/>
<line x1="456.8" y1="326.8" x2="458.8" y2="326.8" stroke="#4a4a4a" stroke-width="0.8"/>
<line x1="488.6" y1="326.2" x2="488.6" y2="328.2" stroke="#4a4a4a" stroke-width="0.85"/>
<line x1="487.6" y1="326.2" x2="489.6" y2="326.2" stroke="#4a4a4a" stroke-width="0.8"/>
<line x1="487.6" y1="328.2" x2="489.6" y2="328.2" stroke="#4a4a4a" stroke-width="0.8"/>
<text x="42.2" y="251.6" font-size="6.4" text-anchor="start" font-weight="normal" fill="#262626" textLength="28.02" lengthAdjust="spacingAndGlyphs" stroke="#262626" stroke-width="0.12">CON RNA</text>
<text x="81.99" y="251.6" font-size="6.4" text-anchor="start" font-weight="normal" fill="#262626" textLength="45.32" lengthAdjust="spacingAndGlyphs" stroke="#262626" stroke-width="0.12">Cyclin D2 siRNA</text>
<text x="41.4" y="389" font-size="6.4" text-anchor="start" font-weight="normal" fill="#262626" textLength="27.71" lengthAdjust="spacingAndGlyphs" stroke="#262626" stroke-width="0.12">CON RNA</text>
<text x="81.1" y="389.2" font-size="6.4" text-anchor="start" font-weight="normal" fill="#262626" textLength="44.41" lengthAdjust="spacingAndGlyphs" stroke="#262626" stroke-width="0.12">Cyclin D2 siRNA</text>
<rect x="97.9" y="162.7" width="3" height="3" fill="#9bbb59"/>
<text x="103.49" y="166.3" font-size="7.2" text-anchor="start" font-weight="normal" fill="#262626" textLength="25.32" lengthAdjust="spacingAndGlyphs" stroke="#262626" stroke-width="0.2">S phase</text>
<rect x="295.3" y="155.7" width="3" height="3" fill="#9bbb59"/>
<text x="300.49" y="159.5" font-size="7.2" text-anchor="start" font-weight="normal" fill="#262626" textLength="25.42" lengthAdjust="spacingAndGlyphs" stroke="#262626" stroke-width="0.2">S phase</text>
<rect x="484" y="156.5" width="3" height="3" fill="#9bbb59"/>
<text x="488.89" y="159.7" font-size="7.2" text-anchor="start" font-weight="normal" fill="#262626" textLength="25.01" lengthAdjust="spacingAndGlyphs" stroke="#262626" stroke-width="0.2">S phase</text>
<text transform="translate(15.9,199.4) rotate(-90)" x="0" y="0" font-size="11.4" text-anchor="middle" font-weight="bold" fill="#000" textLength="64.3" lengthAdjust="spacingAndGlyphs" stroke="#000" stroke-width="0.25">S-phase (%)</text>
<text transform="translate(11.7,333.6) rotate(-90)" x="0" y="0" font-size="11.4" text-anchor="middle" font-weight="bold" fill="#000" textLength="73" lengthAdjust="spacingAndGlyphs" stroke="#000" stroke-width="0.25">Apoptotic (%)</text>
<text transform="translate(174.3,196.05) rotate(-90)" x="0" y="0" font-size="11.4" text-anchor="middle" font-weight="bold" fill="#000" textLength="64.7" lengthAdjust="spacingAndGlyphs" stroke="#000" stroke-width="0.25">S-phase (%)</text>
<text transform="translate(169.5,330.4) rotate(-90)" x="0" y="0" font-size="11.4" text-anchor="middle" font-weight="bold" fill="#000" textLength="72.7" lengthAdjust="spacingAndGlyphs" stroke="#000" stroke-width="0.25">Apoptotic (%)</text>
<text transform="translate(362.1,195.9) rotate(-90)" x="0" y="0" font-size="11.4" text-anchor="middle" font-weight="bold" fill="#000" textLength="64.7" lengthAdjust="spacingAndGlyphs" stroke="#000" stroke-width="0.25">S-phase (%)</text>
<text transform="translate(358.8,332.4) rotate(-90)" x="0" y="0" font-size="11.4" text-anchor="middle" font-weight="bold" fill="#000" textLength="72.4" lengthAdjust="spacingAndGlyphs" stroke="#000" stroke-width="0.25">Apoptotic (%)</text>
<text x="104.9" y="217.5" font-size="11.5" text-anchor="middle" font-weight="bold" fill="#000" stroke="#000" stroke-width="0.3">#</text>
<text x="104" y="305" font-size="11.5" text-anchor="middle" font-weight="bold" fill="#000" stroke="#000" stroke-width="0.3">#</text>
<text x="238.3" y="219.44" font-size="17.5" text-anchor="middle" font-weight="bold" fill="#000">*</text>
<text x="238.4" y="298.24" font-size="17.5" text-anchor="middle" font-weight="bold" fill="#000">*</text>
<text x="427.5" y="213.44" font-size="17.5" text-anchor="middle" font-weight="bold" fill="#000">*</text>
<text x="427.6" y="298.94" font-size="17.5" text-anchor="middle" font-weight="bold" fill="#000">*</text>
<text x="161.71" y="128.8" font-size="9.2" text-anchor="start" font-weight="normal" fill="#000" textLength="16.54" lengthAdjust="spacingAndGlyphs" stroke="#000" stroke-width="0.45">CaM</text>
<text x="153.76" y="137.6" font-size="9.2" text-anchor="start" font-weight="normal" fill="#000" textLength="23.93" lengthAdjust="spacingAndGlyphs" stroke="#000" stroke-width="0.45">FBXL2</text>
<text x="161.92" y="255" font-size="9.2" text-anchor="start" font-weight="normal" fill="#000" textLength="16" lengthAdjust="spacingAndGlyphs" stroke="#000" stroke-width="0.45">CaM</text>
<text x="153.55" y="263.4" font-size="9.2" text-anchor="start" font-weight="normal" fill="#000" textLength="24.25" lengthAdjust="spacingAndGlyphs" stroke="#000" stroke-width="0.45">FBXL2</text>
<text x="161.11" y="393.7" font-size="9.2" text-anchor="start" font-weight="normal" fill="#000" textLength="16.54" lengthAdjust="spacingAndGlyphs" stroke="#000" stroke-width="0.45">CaM</text>
<text x="153.46" y="401.9" font-size="9.2" text-anchor="start" font-weight="normal" fill="#000" textLength="23.93" lengthAdjust="spacingAndGlyphs" stroke="#000" stroke-width="0.45">FBXL2</text>
<text x="335.78" y="127.4" font-size="9.2" text-anchor="start" font-weight="normal" fill="#000" textLength="33.44" lengthAdjust="spacingAndGlyphs" stroke="#000" stroke-width="0.45">CyclinD2</text>
<text x="343.24" y="135.9" font-size="9.2" text-anchor="start" font-weight="normal" fill="#000" textLength="24.77" lengthAdjust="spacingAndGlyphs" stroke="#000" stroke-width="0.45">FBXL2</text>
<text x="335.69" y="253.5" font-size="9.2" text-anchor="start" font-weight="normal" fill="#000" textLength="33.13" lengthAdjust="spacingAndGlyphs" stroke="#000" stroke-width="0.45">CyclinD2</text>
<text x="343.64" y="261.5" font-size="9.2" text-anchor="start" font-weight="normal" fill="#000" textLength="24.56" lengthAdjust="spacingAndGlyphs" stroke="#000" stroke-width="0.45">FBXL2</text>
<text x="335.18" y="392.3" font-size="9.2" text-anchor="start" font-weight="normal" fill="#000" textLength="33.23" lengthAdjust="spacingAndGlyphs" stroke="#000" stroke-width="0.45">CyclinD2</text>
<text x="342.73" y="401.8" font-size="9.2" text-anchor="start" font-weight="normal" fill="#000" textLength="24.98" lengthAdjust="spacingAndGlyphs" stroke="#000" stroke-width="0.45">FBXL2</text>
<text x="449.24" y="127.4" font-size="9.2" text-anchor="start" font-weight="normal" fill="#000" textLength="19.68" lengthAdjust="spacingAndGlyphs" stroke="#000" stroke-width="0.45">Q98A</text>
<text x="478.56" y="127.4" font-size="9.2" text-anchor="start" font-weight="normal" fill="#000" textLength="24.01" lengthAdjust="spacingAndGlyphs" stroke="#000" stroke-width="0.45">K270R</text>
<text x="449.25" y="253.9" font-size="9.2" text-anchor="start" font-weight="normal" fill="#000" textLength="19.27" lengthAdjust="spacingAndGlyphs" stroke="#000" stroke-width="0.45">Q98A</text>
<text x="478.77" y="253.9" font-size="9.2" text-anchor="start" font-weight="normal" fill="#000" textLength="23.38" lengthAdjust="spacingAndGlyphs" stroke="#000" stroke-width="0.45">K270R</text>
<text x="448.74" y="392.7" font-size="9.2" text-anchor="start" font-weight="normal" fill="#000" textLength="19.78" lengthAdjust="spacingAndGlyphs" stroke="#000" stroke-width="0.45">Q98A</text>
<text x="477.74" y="392.7" font-size="9.2" text-anchor="start" font-weight="normal" fill="#000" textLength="24.43" lengthAdjust="spacingAndGlyphs" stroke="#000" stroke-width="0.45">K270R</text>
<line x1="204.4" y1="126.3" x2="209.2" y2="126.3" stroke="#444" stroke-width="0.9"/>
<line x1="235.2" y1="126.3" x2="240" y2="126.3" stroke="#444" stroke-width="0.9"/>
<line x1="266.6" y1="126.3" x2="270.6" y2="126.3" stroke="#333" stroke-width="0.9"/>
<line x1="268.6" y1="124.3" x2="268.6" y2="128.3" stroke="#333" stroke-width="0.9"/>
<line x1="297.7" y1="126.3" x2="301.7" y2="126.3" stroke="#333" stroke-width="0.9"/>
<line x1="299.7" y1="124.3" x2="299.7" y2="128.3" stroke="#333" stroke-width="0.9"/>
<line x1="204.4" y1="135.2" x2="209.2" y2="135.2" stroke="#444" stroke-width="0.9"/>
<line x1="235.6" y1="135.2" x2="239.6" y2="135.2" stroke="#333" stroke-width="0.9"/>
<line x1="237.6" y1="133.2" x2="237.6" y2="137.2" stroke="#333" stroke-width="0.9"/>
<line x1="266.2" y1="135.2" x2="271" y2="135.2" stroke="#444" stroke-width="0.9"/>
<line x1="297.7" y1="135.2" x2="301.7" y2="135.2" stroke="#333" stroke-width="0.9"/>
<line x1="299.7" y1="133.2" x2="299.7" y2="137.2" stroke="#333" stroke-width="0.9"/>
<line x1="204.4" y1="252.4" x2="209.2" y2="252.4" stroke="#444" stroke-width="0.9"/>
<line x1="235.2" y1="252.4" x2="240" y2="252.4" stroke="#444" stroke-width="0.9"/>
<line x1="266.6" y1="252.4" x2="270.6" y2="252.4" stroke="#333" stroke-width="0.9"/>
<line x1="268.6" y1="250.4" x2="268.6" y2="254.4" stroke="#333" stroke-width="0.9"/>
<line x1="297.7" y1="252.4" x2="301.7" y2="252.4" stroke="#333" stroke-width="0.9"/>
<line x1="299.7" y1="250.4" x2="299.7" y2="254.4" stroke="#333" stroke-width="0.9"/>
<line x1="204.4" y1="261.4" x2="209.2" y2="261.4" stroke="#444" stroke-width="0.9"/>
<line x1="235.6" y1="261.4" x2="239.6" y2="261.4" stroke="#333" stroke-width="0.9"/>
<line x1="237.6" y1="259.4" x2="237.6" y2="263.4" stroke="#333" stroke-width="0.9"/>
<line x1="266.2" y1="261.4" x2="271" y2="261.4" stroke="#444" stroke-width="0.9"/>
<line x1="297.7" y1="261.4" x2="301.7" y2="261.4" stroke="#333" stroke-width="0.9"/>
<line x1="299.7" y1="259.4" x2="299.7" y2="263.4" stroke="#333" stroke-width="0.9"/>
<line x1="204.4" y1="391.6" x2="209.2" y2="391.6" stroke="#444" stroke-width="0.9"/>
<line x1="235.2" y1="391.6" x2="240" y2="391.6" stroke="#444" stroke-width="0.9"/>
<line x1="266.6" y1="391.6" x2="270.6" y2="391.6" stroke="#333" stroke-width="0.9"/>
<line x1="268.6" y1="389.6" x2="268.6" y2="393.6" stroke="#333" stroke-width="0.9"/>
<line x1="297.7" y1="391.6" x2="301.7" y2="391.6" stroke="#333" stroke-width="0.9"/>
<line x1="299.7" y1="389.6" x2="299.7" y2="393.6" stroke="#333" stroke-width="0.9"/>
<line x1="204.4" y1="400.3" x2="209.2" y2="400.3" stroke="#444" stroke-width="0.9"/>
<line x1="235.6" y1="400.3" x2="239.6" y2="400.3" stroke="#333" stroke-width="0.9"/>
<line x1="237.6" y1="398.3" x2="237.6" y2="402.3" stroke="#333" stroke-width="0.9"/>
<line x1="266.2" y1="400.3" x2="271" y2="400.3" stroke="#444" stroke-width="0.9"/>
<line x1="297.7" y1="400.3" x2="301.7" y2="400.3" stroke="#333" stroke-width="0.9"/>
<line x1="299.7" y1="398.3" x2="299.7" y2="402.3" stroke="#333" stroke-width="0.9"/>
<line x1="395.6" y1="125.2" x2="400.4" y2="125.2" stroke="#444" stroke-width="0.9"/>
<line x1="424.6" y1="125.2" x2="429.4" y2="125.2" stroke="#444" stroke-width="0.9"/>
<line x1="395.6" y1="133.6" x2="400.4" y2="133.6" stroke="#444" stroke-width="0.9"/>
<line x1="425" y1="133.6" x2="429" y2="133.6" stroke="#333" stroke-width="0.9"/>
<line x1="427" y1="131.6" x2="427" y2="135.6" stroke="#333" stroke-width="0.9"/>
<line x1="456.2" y1="133.6" x2="460.2" y2="133.6" stroke="#333" stroke-width="0.9"/>
<line x1="458.2" y1="131.6" x2="458.2" y2="135.6" stroke="#333" stroke-width="0.9"/>
<line x1="487.2" y1="133.6" x2="491.2" y2="133.6" stroke="#333" stroke-width="0.9"/>
<line x1="489.2" y1="131.6" x2="489.2" y2="135.6" stroke="#333" stroke-width="0.9"/>
<line x1="395.6" y1="251.4" x2="400.4" y2="251.4" stroke="#444" stroke-width="0.9"/>
<line x1="424.6" y1="251.4" x2="429.4" y2="251.4" stroke="#444" stroke-width="0.9"/>
<line x1="395.6" y1="260.2" x2="400.4" y2="260.2" stroke="#444" stroke-width="0.9"/>
<line x1="425" y1="260.2" x2="429" y2="260.2" stroke="#333" stroke-width="0.9"/>
<line x1="427" y1="258.2" x2="427" y2="262.2" stroke="#333" stroke-width="0.9"/>
<line x1="456.2" y1="260.2" x2="460.2" y2="260.2" stroke="#333" stroke-width="0.9"/>
<line x1="458.2" y1="258.2" x2="458.2" y2="262.2" stroke="#333" stroke-width="0.9"/>
<line x1="487.2" y1="260.2" x2="491.2" y2="260.2" stroke="#333" stroke-width="0.9"/>
<line x1="489.2" y1="258.2" x2="489.2" y2="262.2" stroke="#333" stroke-width="0.9"/>
<line x1="395.6" y1="390.4" x2="400.4" y2="390.4" stroke="#444" stroke-width="0.9"/>
<line x1="424.6" y1="390.4" x2="429.4" y2="390.4" stroke="#444" stroke-width="0.9"/>
<line x1="395.6" y1="398.8" x2="400.4" y2="398.8" stroke="#444" stroke-width="0.9"/>
<line x1="425" y1="398.8" x2="429" y2="398.8" stroke="#333" stroke-width="0.9"/>
<line x1="427" y1="396.8" x2="427" y2="400.8" stroke="#333" stroke-width="0.9"/>
<line x1="456.2" y1="398.8" x2="460.2" y2="398.8" stroke="#333" stroke-width="0.9"/>
<line x1="458.2" y1="396.8" x2="458.2" y2="400.8" stroke="#333" stroke-width="0.9"/>
<line x1="487.2" y1="398.8" x2="491.2" y2="398.8" stroke="#333" stroke-width="0.9"/>
<line x1="489.2" y1="396.8" x2="489.2" y2="400.8" stroke="#333" stroke-width="0.9"/>
</svg>
</body></html>
